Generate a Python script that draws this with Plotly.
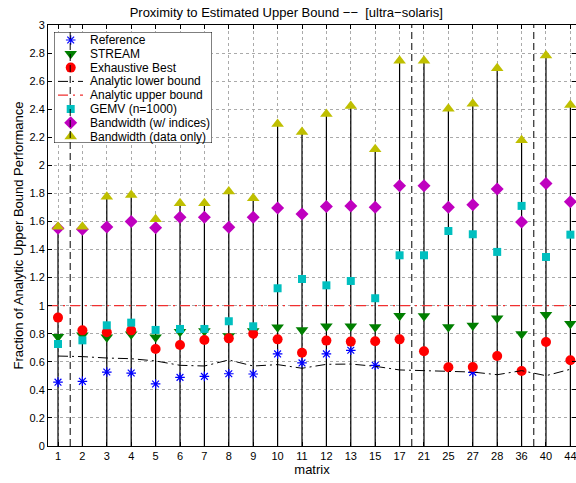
import plotly.graph_objects as go

# ---- data ----
matrices = ["1", "2", "3", "4", "5", "6", "7", "8", "9", "10", "11", "12", "13",
            "15", "17", "21", "25", "27", "28", "36", "40", "44"]

reference = [0.455, 0.461, 0.527, 0.520, 0.442, 0.489, 0.496, 0.515, 0.513, 0.656, 0.592,
             0.656, 0.682, 0.575, None, None, None, 0.525, None, None, None, None]
stream = [0.779, 0.789, 0.775, 0.796, 0.775, 0.815, 0.820, 0.784, 0.820, 0.846, 0.827,
          0.853, 0.853, 0.848, 0.929, 0.927, 0.848, 0.858, 0.910, 0.798, 0.936, 0.872]
exhaustive = [0.915, 0.824, 0.810, 0.824, 0.691, 0.720, 0.755, 0.767, 0.800, 0.760, 0.665,
              0.751, 0.744, 0.746, 0.760, 0.675, 0.561, 0.563, 0.641, 0.534, 0.741, 0.611]
lower_bound = [0.641, 0.637, 0.627, 0.622, 0.606, 0.575, 0.570, 0.613, 0.570, 0.580, 0.554,
               0.582, 0.584, 0.568, 0.542, 0.537, 0.534, 0.527, 0.508, 0.537, 0.501, 0.547]
upper_bound = 1.0
gemv = [0.727, 0.753, 0.860, 0.879, 0.827, 0.834, 0.834, 0.889, 0.853, 1.124, 1.190,
        1.145, 1.176, 1.053, 1.359, 1.359, 1.532, 1.509, 1.383, 1.711, 1.347, 1.506]
bw_indices = [1.551, 1.544, 1.561, 1.599, 1.556, 1.630, 1.630, 1.559, 1.630, 1.696, 1.654,
              1.706, 1.711, 1.701, 1.855, 1.855, 1.701, 1.720, 1.832, 1.597, 1.870, 1.741]
bw_data = [1.563, 1.563, 1.777, 1.789, 1.616, 1.730, 1.730, 1.813, 1.765, 2.295, 2.238,
           2.366, 2.423, 2.115, 2.746, 2.746, 2.404, 2.438, 2.692, 2.179, 2.782, 2.430]
separators = [1.5, 15.5, 20.5]
y_ticks = [round(0.2 * i, 1) for i in range(16)]
y_tick_text = ["0", "0.2", "0.4", "0.6", "0.8", "1", "1.2", "1.4", "1.6", "1.8",
               "2", "2.2", "2.4", "2.6", "2.8", "3"]
legend_names = ["Reference", "STREAM", "Exhaustive Best", "Analytic lower bound",
                "Analytic upper bound", "GEMV (n=1000)", "Bandwidth (w/ indices)",
                "Bandwidth (data only)"]

# ---- styles ----
BLUE, GREEN, RED = "#0000FF", "#007F00", "#FF0000"
CYAN, MAGENTA, YELLOW = "#00BFBF", "#BF00BF", "#BFBF00"
UB_COLOR = "#F03030"

styles = [
    dict(mode="markers", marker=dict(symbol="asterisk-open", size=8, color=BLUE,
                                     line=dict(color=BLUE, width=1.2))),
    dict(mode="markers", marker=dict(symbol="triangle-down", size=11, color=GREEN,
                                     line=dict(width=0))),
    dict(mode="markers", marker=dict(symbol="circle", size=10, color=RED,
                                     line=dict(width=0))),
    dict(mode="lines", line=dict(color="black", width=1, dash="10px,4px,2px,4px")),
    dict(mode="lines", line=dict(color=UB_COLOR, width=1.2, dash="10px,5px,2px,5px")),
    dict(mode="markers", marker=dict(symbol="square", size=8, color=CYAN,
                                     line=dict(width=0))),
    dict(mode="markers", marker=dict(symbol="diamond", size=10, color=MAGENTA,
                                     line=dict(width=0))),
    dict(mode="markers", marker=dict(symbol="triangle-up", size=11, color=YELLOW,
                                     line=dict(width=0))),
]

# ---- figure ----
x = list(range(1, len(matrices) + 1))
x_range = [0.59, 22.23]
y_range = [0, 3]

fig = go.Figure()

# stems from 0 up to the highest value at each matrix
stem_x, stem_y = [], []
for xi, a, b in zip(x, bw_indices, bw_data):
    stem_x += [xi, xi, None]
    stem_y += [0, max(a, b), None]
fig.add_trace(go.Scatter(x=stem_x, y=stem_y, mode="lines",
                         line=dict(color="black", width=1.2),
                         showlegend=False, hoverinfo="skip"))

series = [reference, stream, exhaustive, lower_bound, None, gemv, bw_indices, bw_data]
for name, vals, st in zip(legend_names, series, styles):
    if vals is None:
        fig.add_trace(go.Scatter(x=x_range, y=[upper_bound, upper_bound], name=name,
                                 showlegend=False, **st))
    else:
        fig.add_trace(go.Scatter(x=x, y=vals, name=name, showlegend=False, **st))

for s in separators:
    fig.add_shape(type="line", x0=s, x1=s, y0=0, y1=1, yref="paper", xref="x",
                  line=dict(color="black", width=1, dash="7px,4px"), layer="above")

# ---- custom legend box (own small axes, in pixel-like units) ----
LW, LH = 158, 111
row_h = 13.8
row0 = 8
sym_x = 16.7
fig.add_trace(go.Scatter(x=[0, LW, LW, 0, 0], y=[0, 0, LH, LH, 0], mode="lines",
                         fill="toself", fillcolor="white",
                         line=dict(color="black", width=1),
                         xaxis="x2", yaxis="y2", showlegend=False, hoverinfo="skip"))
for i, (name, st) in enumerate(zip(legend_names, styles)):
    ry = row0 + row_h * i
    if st["mode"] == "lines":
        fig.add_trace(go.Scatter(x=[4, 29], y=[ry, ry], xaxis="x2", yaxis="y2",
                                 showlegend=False, hoverinfo="skip", **st))
    else:
        fig.add_trace(go.Scatter(x=[sym_x], y=[ry], xaxis="x2", yaxis="y2",
                                 showlegend=False, hoverinfo="skip", **st))
    fig.add_annotation(x=33.5, y=ry, xref="x2", yref="y2", text=name, showarrow=False,
                       xanchor="left", yanchor="middle",
                       font=dict(size=12, color="black"))

font_family = "Liberation Sans, Arial, sans-serif"
PL, PT, PB, PR = 48, 25, 37, 0
W, H = 576, 483
pw, ph = W - PL - PR, H - PT - PB
box_left, box_top = 54, 32
fig.update_layout(
    width=W, height=H,
    margin=dict(l=PL, r=PR, t=PT, b=PB),
    paper_bgcolor="white", plot_bgcolor="white",
    font=dict(family=font_family, size=11, color="black"),
    title=dict(text="Proximity to Estimated Upper Bound \u2212\u2212  [ultra\u2212solaris]",
               x=0.497, xanchor="center", y=1 - 12.5 / H, yanchor="middle",
               font=dict(size=13, color="black")),
    showlegend=False,
    xaxis=dict(range=x_range, tickmode="array", tickvals=x, ticktext=matrices,
               showgrid=True, gridcolor="#AAAAAA", griddash="dot", gridwidth=1,
               ticks="inside", ticklen=4, tickcolor="black", mirror="allticks",
               showline=True, linecolor="black", linewidth=1, zeroline=False,
               automargin=False, ticklabeloverflow="allow",
               title=dict(text="matrix", standoff=1, font=dict(size=13)),
               tickfont=dict(size=11)),
    yaxis=dict(range=y_range, tickmode="array", tickvals=y_ticks, ticktext=y_tick_text,
               showgrid=True, gridcolor="#AAAAAA", griddash="dot", gridwidth=1,
               ticks="inside", ticklen=4, tickcolor="black", mirror="allticks",
               showline=True, linecolor="black", linewidth=1, zeroline=False,
               automargin=False,
               title=dict(text="Fraction of Analytic Upper Bound Performance",
                          standoff=2, font=dict(size=13)),
               tickfont=dict(size=11)),
    xaxis2=dict(domain=[(box_left - PL) / pw, (box_left - PL + LW) / pw],
                range=[0, LW], anchor="y2", visible=False, fixedrange=True),
    yaxis2=dict(domain=[1 - (box_top - PT + LH) / ph, 1 - (box_top - PT) / ph],
                range=[LH, 0], anchor="x2", visible=False, fixedrange=True),
)

fig.write_html("out.html",
               config={"displayModeBar": False},
               post_script="document.body.style.margin='0';"
                           "document.body.style.overflow='hidden';")
